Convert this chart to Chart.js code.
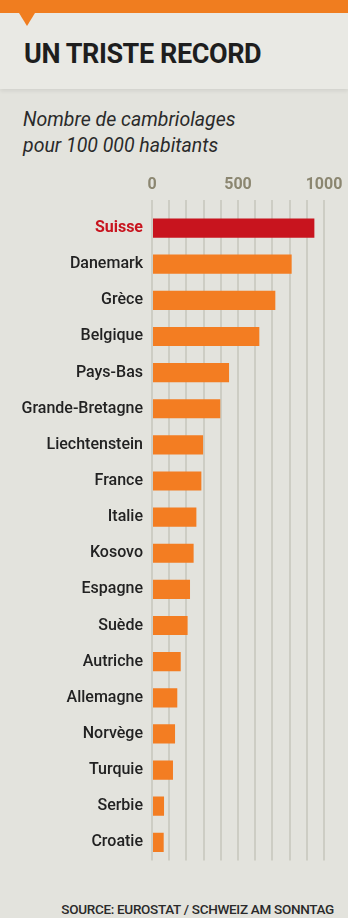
<!DOCTYPE html>
<html lang="fr">
<head>
<meta charset="utf-8">
<script src="https://cdn.jsdelivr.net/npm/chart.js@4.4.1/dist/chart.umd.min.js"></script>
<style>
  html, body { margin:0; padding:0; }
  body { width:348px; height:918px; overflow:hidden; position:relative; background:#e3e3dd;
         font-family:Roboto,'DejaVu Sans Condensed',sans-serif; }
  #head { position:absolute; left:0; top:0; width:348px; height:89px; background:#e9e9e4;
          box-shadow:0 2px 4px rgba(0,0,0,0.08); }
  #band { position:absolute; left:0; top:0; width:348px; height:13px; background:#f07d1f; }
  #tri { position:absolute; left:19px; top:13px; width:0; height:0;
         border-left:8px solid transparent; border-right:8px solid transparent; border-top:13px solid #f07d1f; }
  #title { position:absolute; left:24px; top:37px; font-size:27px; font-weight:bold; color:#1e1e1e;
           line-height:34px; white-space:nowrap; letter-spacing:-0.4px; }
  #sub { position:absolute; left:23px; top:107px; font-size:19.5px; font-style:italic; color:#2a2a2a;
         line-height:26px; white-space:nowrap; }
  #src { position:absolute; right:14px; top:900px; font-size:13.5px; font-weight:500; color:#2a2a2a; white-space:nowrap; line-height:18px; letter-spacing:-0.3px; }
  #wrap { position:absolute; left:0; top:160px; width:348px; height:719px; }
</style>
</head>
<body>
<div id="head"></div>
<div id="band"></div>
<div id="tri"></div>
<div id="title">UN TRISTE RECORD</div>
<div id="sub">Nombre de cambriolages<br>pour 100 000 habitants</div>
<div id="wrap"><canvas id="c" width="348" height="719"></canvas></div>
<div id="src">SOURCE: EUROSTAT / SCHWEIZ AM SONNTAG</div>
<script>
const categories = ["Suisse","Danemark","Grèce","Belgique","Pays-Bas","Grande-Bretagne","Liechtenstein","France","Italie","Kosovo","Espagne","Suède","Autriche","Allemagne","Norvège","Turquie","Serbie","Croatie"];
const values = [944, 812, 717, 624, 448, 397, 297, 287, 258, 242, 221, 207, 167, 147, 134, 122, 70, 68];
const tickLabels = [0, 500, 1000];
const highlight = "Suisse";

const FONT = "Roboto,'DejaVu Sans Condensed',sans-serif";

new Chart(document.getElementById('c'), {
  type: 'bar',
  data: {
    labels: categories,
    datasets: [{
      data: values,
      backgroundColor: categories.map(c => c === highlight ? '#c8141e' : '#f37d22'),
      borderWidth: 0,
      barPercentage: 0.53,
      categoryPercentage: 1
    }]
  },
  options: {
    indexAxis: 'y',
    responsive: false,
    animation: false,
    layout: { padding: { top: 0, right: 24, bottom: 0, left: 0 } },
    plugins: { legend: { display: false }, tooltip: { enabled: false } },
    scales: {
      x: {
        position: 'top',
        min: 0, max: 1000,
        border: { display: false },
        grid: { color: '#cdcdc4', lineWidth: 2, drawTicks: true, tickLength: 10, tickColor: '#cdcdc4' },
        ticks: {
          stepSize: 100, autoSkip: false, maxRotation: 0, padding: 5,
          color: '#8b8670',
          font: { family: FONT, size: 16, weight: 'bold' },
          callback: v => tickLabels.includes(v) ? String(v) : ''
        },
        afterFit: s => { s.height = 50; }
      },
      y: {
        border: { display: false },
        grid: { display: false, drawTicks: false },
        ticks: {
          padding: 9,
          color: ctx => categories[ctx.index] === highlight ? '#c8141e' : '#222222',
          font: ctx => ({ family: FONT, size: 16, weight: categories[ctx.index] === highlight ? 'bold' : '500' })
        },
        afterFit: s => { s.width = 152; }
      }
    }
  }
});
</script>
</body>
</html>
